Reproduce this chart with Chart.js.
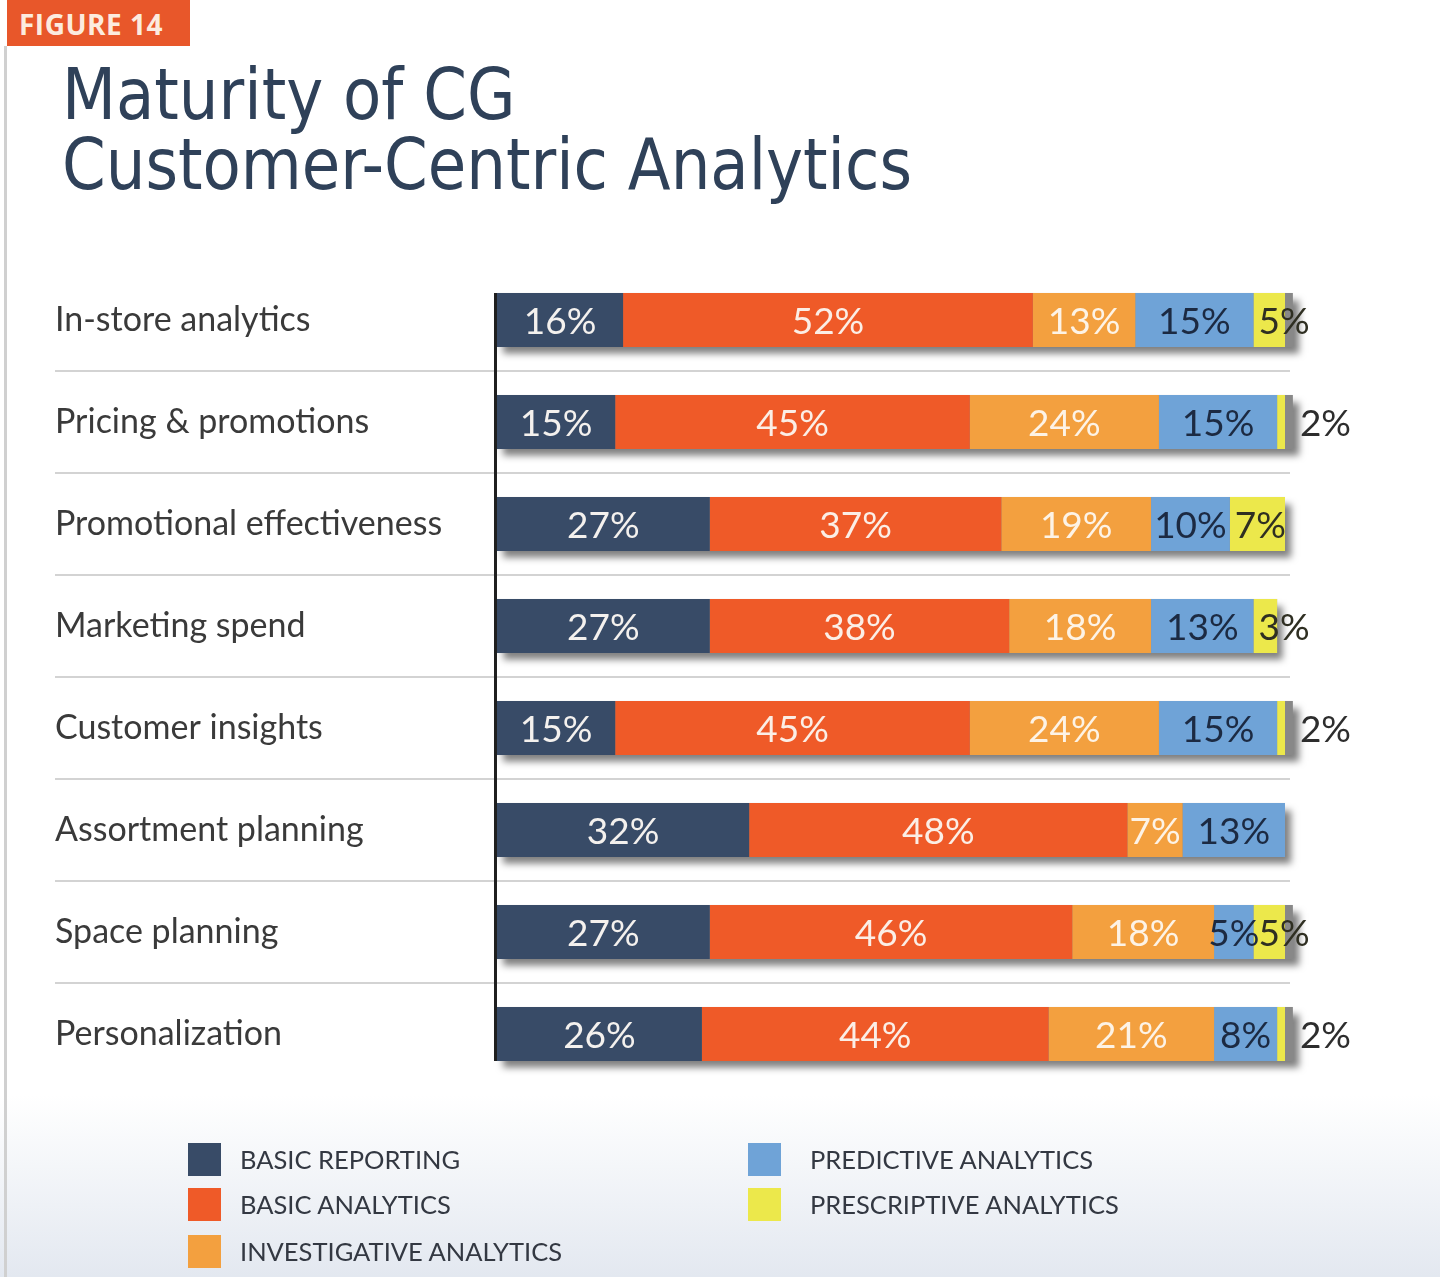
<!DOCTYPE html>
<html>
<head>
<meta charset="utf-8">
<script src="https://cdn.jsdelivr.net/npm/chart.js@4.4.1/dist/chart.umd.min.js"></script>
<style>
  html, body { margin: 0; padding: 0; background: #fff; }
  #page {
    position: relative; width: 1440px; height: 1277px; overflow: hidden;
    background: linear-gradient(to bottom, #ffffff 0px, #ffffff 1095px, #e3e8f0 1277px);
  }
  #edge { position: absolute; left: 4px; top: 46px; bottom: 0; width: 3px; background: #d0d0d0; }
  #badge {
    position: absolute; left: 7px; top: 0; width: 183px; height: 46px; background: #e8572a;
    color: #fcebdf; font: bold 28px "Open Sans", sans-serif; line-height: 48px; text-indent: 12px; letter-spacing: 0.5px;
  }
  #title {
    position: absolute; left: 62px; top: 60px; color: #2f4159;
    font-family: "DejaVu Sans Condensed", "DejaVu Sans", sans-serif; font-size: 71px; line-height: 70px;
    transform-origin: 0 0; white-space: nowrap;
  }
  canvas { position: absolute; left: 0; top: 0; }
  .lg { position: absolute; height: 33px; font: 25.5px Lato, sans-serif; color: #333842; line-height: 33px; white-space: nowrap; }
  .lg i { position: absolute; left: 0; top: 0; width: 33px; height: 33px; }
  .lg span { position: absolute; top: 0; }
</style>
</head>
<body>
<div id="page">
  <div id="edge"></div>
  <div id="badge">FIGURE 14</div>
  <div id="title"><div id="t1">Maturity of CG</div><div id="t2">Customer-Centric Analytics</div></div>
  <canvas id="maturityChart" width="1440" height="1277"></canvas>
  <div id="legend"></div>
</div>
<script>
  // 카테고리 (행)
  const categories = [
    'In-store analytics',
    'Pricing & promotions',
    'Promotional effectiveness',
    'Marketing spend',
    'Customer insights',
    'Assortment planning',
    'Space planning',
    'Personalization'
  ];

  // 시리즈 값 (%)
  const basicReporting = [16, 15, 27, 27, 15, 32, 27, 26];
  const basicAnalytics = [52, 45, 37, 38, 45, 48, 46, 44];
  const investigativeAnalytics = [13, 24, 19, 18, 24, 7, 18, 21];
  const predictiveAnalytics = [15, 15, 10, 13, 15, 13, 5, 8];
  const prescriptiveAnalytics = [5, 2, 7, 3, 2, 0, 5, 2];

  const seriesNames = ['BASIC REPORTING', 'BASIC ANALYTICS', 'INVESTIGATIVE ANALYTICS', 'PREDICTIVE ANALYTICS', 'PRESCRIPTIVE ANALYTICS'];
  const seriesValues = [basicReporting, basicAnalytics, investigativeAnalytics, predictiveAnalytics, prescriptiveAnalytics];
  const seriesColors = ['#384b67', '#ef5a28', '#f3a03f', '#6fa3d7', '#ece84b'];
  const labelColors = ['#f4f1ee', '#fbeee6', '#fdf3e6', '#1c2a42', '#2f2f22'];

  // 제목 폭 맞추기
  const title = document.getElementById('title');
  const t2w = document.getElementById('t2').getBoundingClientRect().width;
  title.style.transform = 'scaleX(' + (850 / t2w) + ')';

  // 범례 (2열)
  const legendPos = [[188, 1143, 52], [188, 1188, 52], [188, 1235, 52], [748, 1143, 62], [748, 1188, 62]];
  const legend = document.getElementById('legend');
  seriesNames.forEach((name, k) => {
    const p = legendPos[k];
    const el = document.createElement('div');
    el.className = 'lg';
    el.style.left = p[0] + 'px';
    el.style.top = p[1] + 'px';
    el.innerHTML = '<i style="background:' + seriesColors[k] + '"></i><span style="left:' + p[2] + 'px">' + name + '</span>';
    legend.appendChild(el);
  });

  // 구분선, 그림자, 축선, 값 라벨
  const rowDecor = {
    id: 'rowDecor',
    beforeDatasetsDraw(chart) {
      const { ctx, scales: { y }, chartArea } = chart;
      ctx.save();
      ctx.strokeStyle = '#d3d3d3';
      ctx.lineWidth = 2;
      for (let i = 0; i < categories.length - 1; i++) {
        const yy = Math.round((y.getPixelForValue(i) + y.getPixelForValue(i + 1)) / 2);
        ctx.beginPath();
        ctx.moveTo(55, yy);
        ctx.lineTo(chartArea.right + 5, yy);
        ctx.stroke();
      }
      const metas = seriesValues.map((_, k) => chart.getDatasetMeta(k));
      for (let i = 0; i < categories.length; i++) {
        const first = metas[0].data[i];
        let end = first.base;
        metas.forEach(m => { end = Math.max(end, m.data[i].x); });
        ctx.shadowColor = 'rgba(0,0,0,0.5)';
        ctx.shadowBlur = 7;
        ctx.shadowOffsetX = 6;
        ctx.shadowOffsetY = 7;
        ctx.fillStyle = '#888';
        ctx.fillRect(first.base, first.y - first.height / 2, end - first.base, first.height);
      }
      ctx.restore();
    },
    afterDatasetsDraw(chart) {
      const { ctx } = chart;
      const metas = seriesValues.map((_, k) => chart.getDatasetMeta(k));
      ctx.save();
      ctx.font = '37px Lato';
      ctx.textBaseline = 'middle';
      for (let i = 0; i < categories.length; i++) {
        let end = metas[0].data[i].base;
        metas.forEach(m => { end = Math.max(end, m.data[i].x); });
        seriesValues.forEach((vals, k) => {
          const v = vals[i];
          if (!v) return;
          const el = metas[k].data[i];
          const txt = v + '%';
          if (k === 4) {
            ctx.textAlign = 'left';
            if (v <= 2) {
              ctx.fillStyle = '#2d2d2d';
              ctx.fillText(txt, end + 7, el.y + 2);
            } else {
              ctx.fillStyle = labelColors[k];
              ctx.fillText(txt, el.base + 5, el.y + 2);
            }
          } else {
            ctx.textAlign = 'center';
            ctx.fillStyle = labelColors[k];
            ctx.fillText(txt, (el.x + el.base) / 2, el.y + 2);
          }
        });
      }
      // 세로 축선
      const top = metas[0].data[0];
      const bot = metas[0].data[categories.length - 1];
      ctx.strokeStyle = '#1f1f1f';
      ctx.lineWidth = 3;
      ctx.beginPath();
      ctx.moveTo(top.base - 1.5, top.y - top.height / 2);
      ctx.lineTo(top.base - 1.5, bot.y + bot.height / 2);
      ctx.stroke();
      ctx.restore();
    }
  };

  const ctx = document.getElementById('maturityChart').getContext('2d');
  const maturityChart = new Chart(ctx, {
    type: 'bar',
    data: {
      labels: categories,
      datasets: seriesValues.map((vals, k) => ({
        label: seriesNames[k],
        data: vals,
        backgroundColor: seriesColors[k],
        borderWidth: 0,
        barPercentage: 0.53,
        categoryPercentage: 1
      }))
    },
    options: {
      indexAxis: 'y',
      responsive: false,
      animation: false,
      layout: { padding: { left: 55, top: 269, right: 155, bottom: 192 } },
      plugins: { legend: { display: false }, tooltip: { enabled: false } },
      scales: {
        x: { stacked: true, min: 0, max: 100, display: false },
        y: {
          stacked: true,
          grid: { display: false },
          border: { display: false },
          afterFit(scale) { scale.width = 442; },
          ticks: {
            crossAlign: 'far',
            color: '#3a3a3a',
            font: { family: 'Lato', size: 34 }
          }
        }
      }
    },
    plugins: [rowDecor]
  });
</script>
</body>
</html>
